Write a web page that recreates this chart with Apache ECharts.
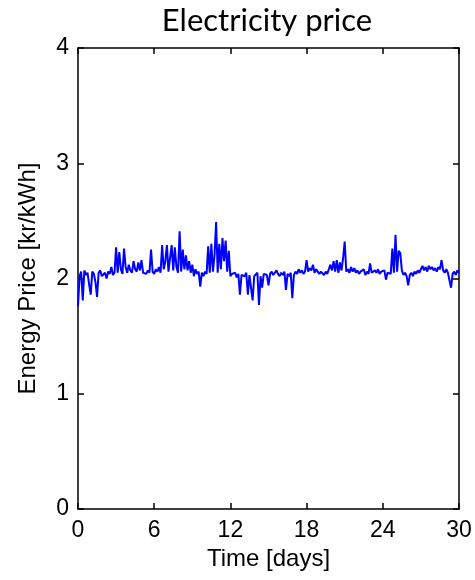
<!DOCTYPE html>
<html>
<head>
<meta charset="utf-8">
<script src="https://cdn.jsdelivr.net/npm/echarts@6/dist/echarts.min.js"></script>
<style>html,body{margin:0;padding:0;background:#fff}#c{width:475px;height:580px}</style>
</head>
<body>
<div id="c"></div>
<script>
// Energy price [kr/kWh], sampled every 3 hours (8 per day), days 0..30
const priceByDay = [
  [1.76, 2.02, 2.06, 1.81, 2.07, 2.03, 2.05, 1.95],
  [1.86, 2.06, 2.04, 1.97, 1.84, 2.05, 2.07, 2.02],
  [2.03, 2.05, 2.00, 2.06, 2.04, 2.10, 2.03, 2.05],
  [2.27, 2.05, 2.23, 2.08, 2.04, 2.26, 2.10, 2.05],
  [2.12, 2.07, 2.05, 2.15, 2.08, 2.06, 2.14, 2.07],
  [2.16, 2.05, 2.06, 2.04, 2.07, 2.05, 2.25, 2.06],
  [2.04, 2.08, 2.06, 2.10, 2.05, 2.29, 2.08, 2.15],
  [2.29, 2.06, 2.18, 2.29, 2.07, 2.27, 2.10, 2.05],
  [2.41, 2.06, 2.25, 2.08, 2.20, 2.07, 2.15, 2.05],
  [2.12, 2.02, 2.08, 2.04, 2.06, 1.93, 2.05, 2.02],
  [2.06, 2.04, 2.28, 2.05, 2.30, 2.06, 2.20, 2.49],
  [2.05, 2.30, 2.08, 2.35, 2.15, 2.33, 2.06, 2.24],
  [2.02, 2.04, 2.03, 2.05, 2.01, 2.04, 1.86, 2.03],
  [2.04, 2.02, 2.05, 1.86, 2.03, 2.04, 1.81, 2.02],
  [2.03, 2.05, 1.77, 2.02, 1.92, 2.04, 2.05, 2.03],
  [1.94, 2.04, 2.06, 2.03, 2.05, 2.07, 2.04, 2.02],
  [2.05, 2.03, 2.06, 1.90, 2.04, 2.02, 2.05, 1.83],
  [2.03, 2.06, 2.04, 2.08, 2.05, 2.07, 2.04, 2.06],
  [2.16, 2.06, 2.09, 2.07, 2.12, 2.05, 2.08, 2.06],
  [2.04, 2.06, 2.05, 2.03, 2.06, 2.04, 2.05, 2.12],
  [2.07, 2.15, 2.06, 2.16, 2.05, 2.14, 2.07, 2.18],
  [2.32, 2.06, 2.08, 2.05, 2.10, 2.06, 2.09, 2.05],
  [2.07, 2.04, 2.06, 2.05, 2.08, 2.03, 2.06, 2.04],
  [2.13, 2.05, 2.04, 2.07, 2.05, 2.08, 2.04, 2.06],
  [2.05, 2.07, 1.99, 2.05, 2.06, 2.04, 2.26, 2.05],
  [2.38, 2.06, 2.24, 2.22, 2.07, 2.03, 2.05, 2.02],
  [1.94, 2.03, 2.05, 2.02, 2.06, 2.04, 2.07, 2.05],
  [2.08, 2.11, 2.07, 2.10, 2.06, 2.11, 2.08, 2.10],
  [2.07, 2.09, 2.06, 2.10, 2.08, 2.16, 2.07, 2.05],
  [2.08, 2.05, 2.06, 1.92, 2.04, 2.06, 2.03, 2.07]
];
const finalPrice = 2.05;
const samplesPerDay = 8;
const xTicks = [0, 6, 12, 18, 24, 30];
const yTicks = [0, 1, 2, 3, 4];
const titleText = 'Electricity price';
const xName = 'Time [days]';
const yName = 'Energy Price [kr/kWh]';

const prices = [].concat(...priceByDay, [finalPrice]);
const seriesData = prices.map((v, i) => [i / samplesPerDay, v]);

const chart = echarts.init(document.getElementById('c'), null, {renderer: 'canvas'});
const axisLine = {show: true, onZero: false, lineStyle: {color: '#000', width: 1.5}};
const axisTick = {show: true, inside: true, length: 6, lineStyle: {color: '#000', width: 1.5}};
const font = 'Liberation Sans, Arial, sans-serif';
const labelFont = {color: '#000', fontSize: 23, fontFamily: font};
chart.setOption({
  animation: false,
  backgroundColor: '#fff',
  title: {
    text: titleText, left: 262, top: 0, textAlign: 'center',
    textStyle: {fontSize: 31, fontWeight: 'normal', color: '#000', fontFamily: 'Lato, sans-serif'}
  },
  grid: {left: 78, right: 16, top: 48, bottom: 71, containLabel: false},
  xAxis: [{
    type: 'value', min: xTicks[0], max: xTicks[xTicks.length - 1], interval: 6,
    axisLine, axisTick, splitLine: {show: false},
    axisLabel: Object.assign({margin: 10}, labelFont),
    name: xName, nameLocation: 'middle', nameGap: 36,
    nameTextStyle: {color: '#000', fontSize: 24, fontFamily: font}
  }, {
    type: 'value', position: 'top', min: 0, max: 30, interval: 6,
    axisLine, axisTick, axisLabel: {show: false}, splitLine: {show: false}
  }],
  yAxis: [{
    type: 'value', min: yTicks[0], max: yTicks[yTicks.length - 1], interval: 1,
    axisLine, axisTick, splitLine: {show: false},
    axisLabel: Object.assign({margin: 9}, labelFont),
    name: yName, nameLocation: 'middle', nameGap: 38, nameRotate: 90,
    nameTextStyle: {color: '#000', fontSize: 24, fontFamily: font}
  }, {
    type: 'value', position: 'right', min: 0, max: 4, interval: 1,
    axisLine, axisTick, axisLabel: {show: false}, splitLine: {show: false}
  }],
  series: [{
    type: 'line', data: seriesData, showSymbol: false, symbol: 'none',
    lineStyle: {color: '#0000ff', width: 2}, itemStyle: {color: '#0000ff'}
  }]
});
</script>
</body>
</html>
